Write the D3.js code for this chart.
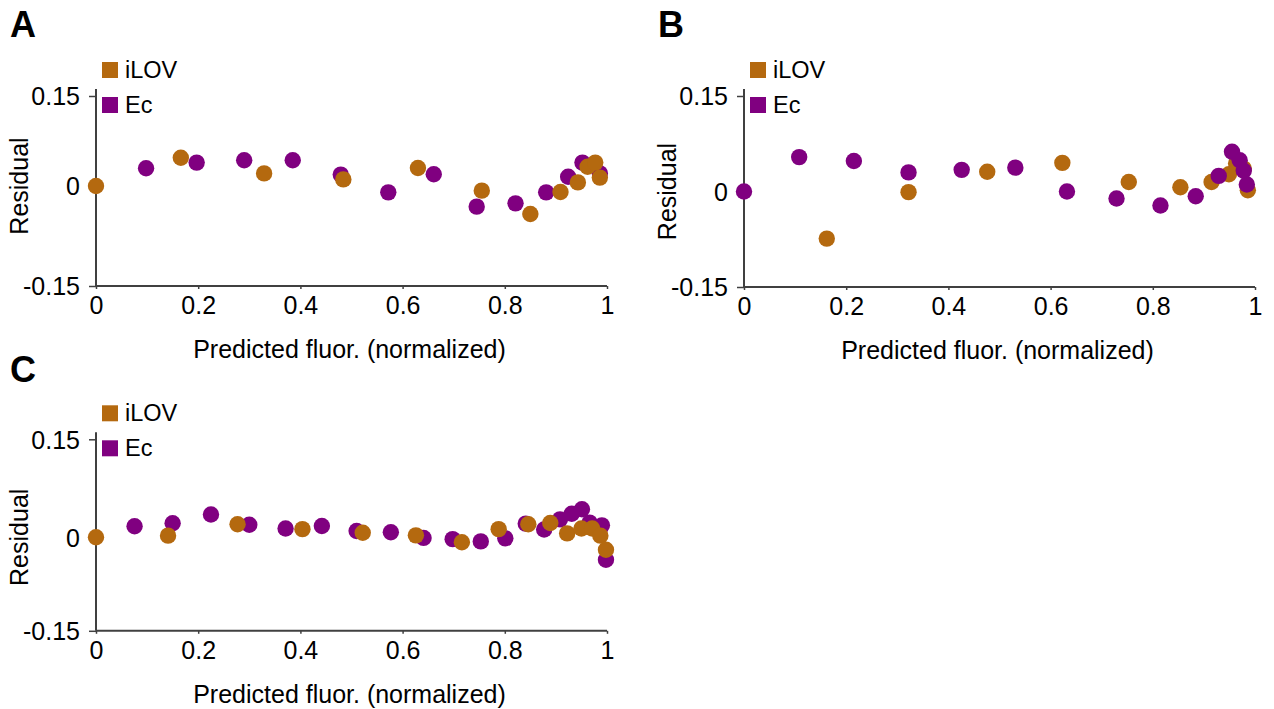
<!DOCTYPE html>
<html>
<head>
<meta charset="utf-8">
<script src="https://cdn.jsdelivr.net/npm/d3@7"></script>
<style>
  body { margin: 0; background: #fff; }
  svg { font-family: "Liberation Sans", Arial, sans-serif; }
</style>
</head>
<body>
<svg id="fig" width="1274" height="709"></svg>
<script>
// residuals vs predicted fluorescence, three model variants
var seriesNames = ["iLOV", "Ec"],
    colors = {iLOV: "#b4690f", Ec: "#800080"},
    xTicks = [0, 0.2, 0.4, 0.6, 0.8, 1],
    yTicks = [-0.15, 0, 0.15],
    yTickLabels = ["-0.15", "0", "0.15"];

// panel A
var aIlovX = [0, 0.166, 0.329, 0.484, 0.630, 0.755, 0.850, 0.909, 0.943, 0.962, 0.977, 0.986],
    aIlovY = [0, 0.047, 0.021, 0.011, 0.030, -0.007, -0.042, -0.009, 0.006, 0.032, 0.039, 0.014],
    aEcX = [0.098, 0.197, 0.290, 0.385, 0.479, 0.572, 0.661, 0.745, 0.821, 0.881, 0.924, 0.952, 0.986],
    aEcY = [0.0295, 0.039, 0.043, 0.043, 0.019, -0.0095, 0.0195, -0.031, -0.026, -0.0095, 0.0155, 0.039, 0.021];

// panel B
var bIlovX = [0.162, 0.322, 0.476, 0.623, 0.753, 0.854, 0.915, 0.949, 0.963, 0.978, 0.986],
    bIlovY = [-0.074, -0.001, 0.031, 0.045, 0.015, 0.0067, 0.015, 0.027, 0.044, 0.036, 0.002],
    bEcX = [0, 0.108, 0.215, 0.322, 0.426, 0.531, 0.632, 0.729, 0.815, 0.884, 0.929, 0.955, 0.970, 0.978, 0.984],
    bEcY = [0, 0.054, 0.048, 0.030, 0.034, 0.0375, 0, -0.011, -0.022, -0.0075, 0.0245, 0.0625, 0.049, 0.0325, 0.011];

// panel C
var cIlovX = [0, 0.141, 0.277, 0.404, 0.522, 0.626, 0.716, 0.788, 0.846, 0.889, 0.922, 0.950, 0.971, 0.987, 0.998],
    cIlovY = [0, 0.0025, 0.020, 0.0125, 0.007, 0.003, -0.008, 0.0125, 0.020, 0.022, 0.006, 0.0135, 0.0135, 0.0025, -0.020],
    cEcX = [0.0755, 0.150, 0.225, 0.300, 0.371, 0.442, 0.510, 0.577, 0.641, 0.698, 0.753, 0.801, 0.841, 0.877, 0.908, 0.931, 0.951, 0.966, 0.990, 0.998],
    cEcY = [0.017, 0.0215, 0.035, 0.0193, 0.0135, 0.0173, 0.0096, 0.0077, -0.001, -0.003, -0.0066, -0.0017, 0.021, 0.012, 0.0275, 0.036, 0.043, 0.0225, 0.0183, -0.036];

function zip(xs, ys) {
    return xs.map(function (x, i) { return {x: x, y: ys[i]}; });
}

// zero sits slightly off-centre on each panel's residual axis
var panels = [
    {label: "A", left: 96, top: 96, h: 190, zero: 90, iLOV: zip(aIlovX, aIlovY), Ec: zip(aEcX, aEcY), order: ["Ec", "iLOV"]},
    {label: "B", left: 744, top: 96, h: 191, zero: 95.5, iLOV: zip(bIlovX, bIlovY), Ec: zip(bEcX, bEcY), order: ["iLOV", "Ec"]},
    {label: "C", left: 96, top: 439.3, h: 191.5, zero: 98, iLOV: zip(cIlovX, cIlovY), Ec: zip(cEcX, cEcY), order: ["Ec", "iLOV"]}
];

var W = 511, axisColor = "#404040", fs = "25px";
var svg = d3.select("#fig");

panels.forEach(function (p) {
    var H = p.h;
    var g = svg.append("g").attr("transform", "translate(" + p.left + "," + p.top + ")");

    var x = d3.scaleLinear().domain([0, 1]).range([0, W]),
        y = d3.scaleLinear().domain([-0.15, 0, 0.15]).range([H, p.zero, 0]);

    // panel letter
    g.append("text")
        .attr("x", -86).attr("y", p.top > 400 ? -57 : -59)
        .style("font-size", "36px").style("font-weight", "bold")
        .text(p.label);

    // axes
    var xAxis = d3.axisBottom(x).tickValues(xTicks).tickSize(3).tickSizeOuter(0)
        .tickFormat(function (d) { return String(d); });
    var gx = g.append("g").attr("transform", "translate(0," + H + ")").call(xAxis);

    var yAxis = d3.axisLeft(y).tickValues(yTicks).tickSize(7).tickSizeOuter(0)
        .tickFormat(function (d, i) { return yTickLabels[i]; });
    var gy = g.append("g").call(yAxis);

    [gx, gy].forEach(function (a) {
        a.select(".domain").remove();
        a.selectAll("line").attr("stroke", axisColor).attr("stroke-width", 1.5);
        a.selectAll("text").attr("fill", "#000").style("font-size", fs)
            .style("font-family", "'Liberation Sans', Arial, sans-serif");
    });
    gx.selectAll("text").attr("dy", "0").attr("y", 28);
    gy.selectAll("text").attr("x", -16).attr("dy", "0.35em");

    g.append("line").attr("x1", 0).attr("x2", 0).attr("y1", -7).attr("y2", H)
        .attr("stroke", axisColor).attr("stroke-width", 2);
    g.append("line").attr("x1", 0).attr("x2", W).attr("y1", H).attr("y2", H)
        .attr("stroke", axisColor).attr("stroke-width", 2);

    // axis titles
    g.append("text")
        .attr("x", W / 2 - 2).attr("y", H + 72)
        .style("text-anchor", "middle").style("font-size", fs)
        .text("Predicted fluor. (normalized)");

    g.append("text")
        .attr("transform", "rotate(-90)")
        .attr("x", -p.zero).attr("y", -68)
        .style("text-anchor", "middle").style("font-size", fs)
        .text("Residual");

    // points
    p.order.forEach(function (name) {
        g.selectAll("circle." + name)
            .data(p[name])
            .enter().append("circle")
            .attr("class", name)
            .attr("cx", function (d) { return x(d.x); })
            .attr("cy", function (d) { return y(d.y); })
            .attr("r", 8.2)
            .attr("fill", colors[name]);
    });

    // legend
    var lg = g.append("g").attr("transform", "translate(6,-34)");
    seriesNames.forEach(function (name, i) {
        lg.append("rect")
            .attr("x", 0).attr("y", i * 35)
            .attr("width", 16).attr("height", 16)
            .attr("fill", colors[name]);
        lg.append("text")
            .attr("x", 23).attr("y", i * 35 + 16)
            .style("font-size", "23.5px")
            .text(name);
    });
});
</script>
</body>
</html>
